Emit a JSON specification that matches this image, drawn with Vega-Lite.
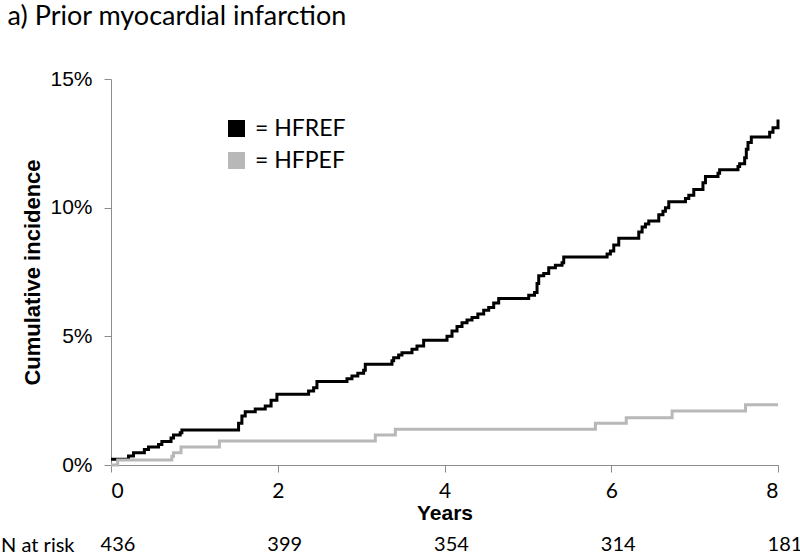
{
  "$schema": "https://vega.github.io/schema/vega-lite/v6.json",
  "autosize": "pad",
  "padding": {"left": 0, "top": 3, "right": 0, "bottom": 0},
  "background": "white",
  "config": {"view": {"stroke": null}, "concat": {"spacing": 12}},
  "title": {"text": "a) Prior myocardial infarction", "anchor": "start", "frame": "bounds", "font": "Lato", "fontSize": 27, "fontWeight": "normal", "color": "#000000", "dx": 7, "offset": 37},
  "vconcat": [
    {
      "width": 667,
      "height": 386,
      "data": {"values": [
        {"group": "HFREF", "year": 0, "inc": 0.22},
        {"group": "HFREF", "year": 0.21, "inc": 0.35},
        {"group": "HFREF", "year": 0.27, "inc": 0.48},
        {"group": "HFREF", "year": 0.40, "inc": 0.60},
        {"group": "HFREF", "year": 0.45, "inc": 0.70},
        {"group": "HFREF", "year": 0.57, "inc": 0.80},
        {"group": "HFREF", "year": 0.61, "inc": 0.91},
        {"group": "HFREF", "year": 0.72, "inc": 1.05},
        {"group": "HFREF", "year": 0.75, "inc": 1.17},
        {"group": "HFREF", "year": 0.83, "inc": 1.25},
        {"group": "HFREF", "year": 0.85, "inc": 1.36},
        {"group": "HFREF", "year": 1.53, "inc": 1.62},
        {"group": "HFREF", "year": 1.57, "inc": 1.90},
        {"group": "HFREF", "year": 1.61, "inc": 2.07},
        {"group": "HFREF", "year": 1.73, "inc": 2.18},
        {"group": "HFREF", "year": 1.85, "inc": 2.29},
        {"group": "HFREF", "year": 1.92, "inc": 2.52},
        {"group": "HFREF", "year": 1.99, "inc": 2.75},
        {"group": "HFREF", "year": 2.37, "inc": 2.88},
        {"group": "HFREF", "year": 2.43, "inc": 3.00},
        {"group": "HFREF", "year": 2.47, "inc": 3.24},
        {"group": "HFREF", "year": 2.83, "inc": 3.35},
        {"group": "HFREF", "year": 2.89, "inc": 3.46},
        {"group": "HFREF", "year": 2.96, "inc": 3.57},
        {"group": "HFREF", "year": 3.03, "inc": 3.68},
        {"group": "HFREF", "year": 3.05, "inc": 3.92},
        {"group": "HFREF", "year": 3.37, "inc": 4.05},
        {"group": "HFREF", "year": 3.39, "inc": 4.17},
        {"group": "HFREF", "year": 3.45, "inc": 4.27},
        {"group": "HFREF", "year": 3.49, "inc": 4.36},
        {"group": "HFREF", "year": 3.61, "inc": 4.50},
        {"group": "HFREF", "year": 3.67, "inc": 4.62},
        {"group": "HFREF", "year": 3.75, "inc": 4.85},
        {"group": "HFREF", "year": 4.03, "inc": 5.00},
        {"group": "HFREF", "year": 4.09, "inc": 5.21},
        {"group": "HFREF", "year": 4.15, "inc": 5.38},
        {"group": "HFREF", "year": 4.21, "inc": 5.53},
        {"group": "HFREF", "year": 4.27, "inc": 5.63},
        {"group": "HFREF", "year": 4.33, "inc": 5.73},
        {"group": "HFREF", "year": 4.40, "inc": 5.87},
        {"group": "HFREF", "year": 4.47, "inc": 6.01},
        {"group": "HFREF", "year": 4.53, "inc": 6.12},
        {"group": "HFREF", "year": 4.59, "inc": 6.30},
        {"group": "HFREF", "year": 4.65, "inc": 6.47},
        {"group": "HFREF", "year": 5.01, "inc": 6.60},
        {"group": "HFREF", "year": 5.08, "inc": 6.70},
        {"group": "HFREF", "year": 5.11, "inc": 7.05},
        {"group": "HFREF", "year": 5.13, "inc": 7.35},
        {"group": "HFREF", "year": 5.19, "inc": 7.44},
        {"group": "HFREF", "year": 5.25, "inc": 7.67},
        {"group": "HFREF", "year": 5.33, "inc": 7.76},
        {"group": "HFREF", "year": 5.41, "inc": 7.86},
        {"group": "HFREF", "year": 5.43, "inc": 8.08},
        {"group": "HFREF", "year": 5.95, "inc": 8.20},
        {"group": "HFREF", "year": 5.99, "inc": 8.32},
        {"group": "HFREF", "year": 6.03, "inc": 8.55},
        {"group": "HFREF", "year": 6.09, "inc": 8.81},
        {"group": "HFREF", "year": 6.33, "inc": 9.05},
        {"group": "HFREF", "year": 6.37, "inc": 9.25},
        {"group": "HFREF", "year": 6.41, "inc": 9.37},
        {"group": "HFREF", "year": 6.45, "inc": 9.48},
        {"group": "HFREF", "year": 6.57, "inc": 9.72},
        {"group": "HFREF", "year": 6.62, "inc": 9.86},
        {"group": "HFREF", "year": 6.65, "inc": 10.00},
        {"group": "HFREF", "year": 6.69, "inc": 10.23},
        {"group": "HFREF", "year": 6.89, "inc": 10.36},
        {"group": "HFREF", "year": 6.93, "inc": 10.48},
        {"group": "HFREF", "year": 6.99, "inc": 10.71},
        {"group": "HFREF", "year": 7.10, "inc": 10.97},
        {"group": "HFREF", "year": 7.13, "inc": 11.21},
        {"group": "HFREF", "year": 7.28, "inc": 11.34},
        {"group": "HFREF", "year": 7.30, "inc": 11.47},
        {"group": "HFREF", "year": 7.52, "inc": 11.60},
        {"group": "HFREF", "year": 7.54, "inc": 11.71},
        {"group": "HFREF", "year": 7.60, "inc": 11.94},
        {"group": "HFREF", "year": 7.62, "inc": 12.27},
        {"group": "HFREF", "year": 7.64, "inc": 12.53},
        {"group": "HFREF", "year": 7.68, "inc": 12.75},
        {"group": "HFREF", "year": 7.90, "inc": 12.93},
        {"group": "HFREF", "year": 7.94, "inc": 13.11},
        {"group": "HFREF", "year": 8.00, "inc": 13.43},
        {"group": "HFPEF", "year": 0, "inc": 0},
        {"group": "HFPEF", "year": 0.08, "inc": 0.19},
        {"group": "HFPEF", "year": 0.73, "inc": 0.34},
        {"group": "HFPEF", "year": 0.75, "inc": 0.48},
        {"group": "HFPEF", "year": 0.84, "inc": 0.70},
        {"group": "HFPEF", "year": 1.30, "inc": 0.93},
        {"group": "HFPEF", "year": 3.17, "inc": 1.17},
        {"group": "HFPEF", "year": 3.41, "inc": 1.39},
        {"group": "HFPEF", "year": 5.81, "inc": 1.62},
        {"group": "HFPEF", "year": 6.18, "inc": 1.84},
        {"group": "HFPEF", "year": 6.73, "inc": 2.10},
        {"group": "HFPEF", "year": 7.61, "inc": 2.34},
        {"group": "HFPEF", "year": 8.00, "inc": 2.34}
      ]},
      "mark": {"type": "line", "interpolate": "step-after", "strokeWidth": 3, "clip": false},
      "encoding": {
        "x": {"field": "year", "type": "quantitative",
          "scale": {"domain": [0, 8], "nice": false, "zero": false},
          "axis": {"values": [0, 2, 4, 6, 8], "grid": false, "title": "Years",
            "domainColor": "#8c8c8c", "tickColor": "#8c8c8c", "tickSize": 7,
            "labelFont": "Lato", "labelFontSize": 21, "labelColor": "#000000", "labelPadding": 8,
            "titleFont": "Liberation Sans", "titleFontSize": 21, "titleFontWeight": "bold", "titleColor": "#000000", "titlePadding": 1}},
        "y": {"field": "inc", "type": "quantitative",
          "scale": {"domain": [0, 15], "nice": false},
          "axis": {"values": [0, 5, 10, 15], "grid": false, "title": "Cumulative incidence",
            "labelExpr": "datum.value + '%'",
            "domainColor": "#8c8c8c", "tickColor": "#8c8c8c", "tickSize": 7,
            "labelFont": "Liberation Sans", "labelFontSize": 21, "labelColor": "#000000", "labelPadding": 12,
            "titleFont": "Liberation Sans", "titleFontSize": 22, "titleFontWeight": "bold", "titleColor": "#000000", "titlePadding": 5}},
        "color": {"field": "group", "type": "nominal",
          "scale": {"domain": ["HFREF", "HFPEF"], "range": ["#000000", "#b8b8b8"]},
          "legend": {"title": null, "orient": "none", "legendX": 114, "legendY": 38,
            "symbolType": "square", "symbolSize": 289, "symbolStrokeWidth": 0,
            "labelExpr": "'= ' + datum.label", "labelFont": "Lato", "labelFontSize": 23, "labelColor": "#000000",
            "labelOffset": 7, "rowPadding": 8,
            "encode": {"symbols": {"update": {"fill": {"scale": "color", "field": "value"}, "fillOpacity": {"value": 1}, "strokeWidth": {"value": 0}}}}}}
      }
    },
    {
      "width": 667,
      "height": 20,
      "data": {"values": [
        {"row": "N at risk", "year": 0, "n": "436"},
        {"row": "N at risk", "year": 2, "n": "399"},
        {"row": "N at risk", "year": 4, "n": "354"},
        {"row": "N at risk", "year": 6, "n": "314"},
        {"row": "N at risk", "year": 8, "n": "181"}
      ]},
      "mark": {"type": "text", "font": "Lato", "fontSize": 20, "color": "#000000", "dx": 7, "baseline": "middle"},
      "encoding": {
        "x": {"field": "year", "type": "quantitative", "scale": {"domain": [0, 8], "nice": false, "zero": false}, "axis": null},
        "y": {"field": "row", "type": "nominal",
          "axis": {"title": null, "domain": false, "ticks": false, "labelFont": "Lato", "labelFontSize": 20, "labelColor": "#000000", "labelPadding": 37}},
        "text": {"field": "n"}
      }
    }
  ]
}
